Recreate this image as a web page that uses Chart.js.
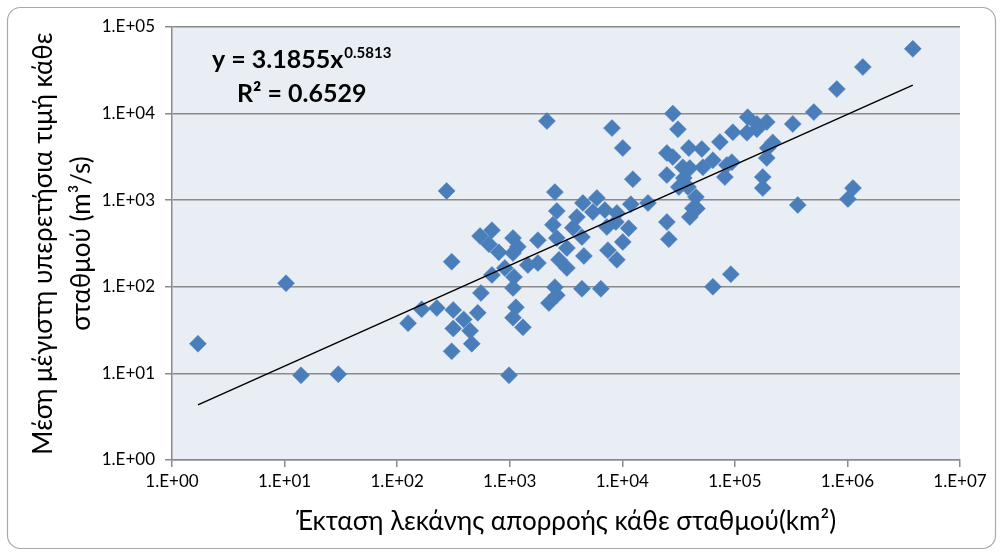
<!DOCTYPE html>
<html>
<head>
<meta charset="utf-8">
<script src="https://cdn.jsdelivr.net/npm/chart.js@4"></script>
<style>
  html, body { margin: 0; padding: 0; background: #fff; }
  canvas { display: block; }
</style>
</head>
<body>
<canvas id="flowChart" width="1001" height="555"></canvas>
<script>
// catchment area (km2) and mean annual peak flow (m3/s) per station
const areaKm2 = [
  1.7, 10.3, 14, 30, 125, 165, 225, 275, 305, 315, 315, 305, 390, 445, 460, 520, 555,
  545, 695, 655, 695, 800, 905, 1070, 1070, 1180, 1090, 1070, 1135, 1070, 1310, 985,
  1450, 1780, 1780, 2140, 2520, 2620, 2420, 2620, 2740, 3220, 3220, 2520, 2620, 2230,
  3640, 3950, 4470, 4380, 4560, 5480, 5950, 7000, 7300, 8770, 8950, 7450, 8950, 10100,
  11400, 11900, 12400, 8100, 10100, 4380, 6450, 16900, 24900, 24900, 24900, 25900,
  28100, 28100, 31200, 31800, 34500, 35200, 39000, 39800, 39800, 42400, 45100, 46000,
  50900, 52000, 38300, 63800, 63800, 73600, 81500, 84900, 94000, 92100, 96000, 128000,
  130000, 157000, 157000, 177000, 177000, 192000, 192000, 196000, 217000, 327000,
  362000, 503000, 805000, 1010000, 1120000, 1370000, 3810000
];
const peakFlow = [
  22, 110, 9.5, 9.8, 38, 55, 57, 1280, 195, 54, 33, 18, 42, 31, 22, 50, 85,
  385, 450, 310, 137, 250, 165, 365, 245, 290, 130, 97, 58, 44, 34, 9.5,
  178, 188, 345, 8200, 1240, 750, 520, 365, 205, 165, 280, 99, 80, 65,
  480, 640, 930, 375, 227, 730, 1060, 770, 490, 560, 710, 265, 205, 330,
  475, 900, 1750, 6800, 4000, 95, 95, 930, 3500, 1950, 560, 355,
  10000, 3150, 6600, 1420, 2400, 1800, 4000, 2350, 640, 810, 1090, 800,
  3900, 2400, 1420, 2900, 100, 4700, 1850, 2550, 2750, 140, 6100, 6000,
  9100, 7600, 6600, 1850, 1380, 8000, 3070, 4000, 4650, 7600,
  880, 10400, 19200, 1030, 1380, 34500, 56000
];

const xTicks = [1, 10, 100, 1000, 10000, 100000, 1000000, 10000000];
const xTickLabels = ['1.E+00', '1.E+01', '1.E+02', '1.E+03', '1.E+04', '1.E+05', '1.E+06', '1.E+07'];
const yTicks = [1, 10, 100, 1000, 10000, 100000];
const yTickLabels = ['1.E+00', '1.E+01', '1.E+02', '1.E+03', '1.E+04', '1.E+05'];

// power trendline y = a * x^b
const trendA = 3.1855;
const trendB = 0.5813;
const trendR2 = 0.6529;

const points = areaKm2.map((x, i) => ({ x: x, y: peakFlow[i] }));
const xMin = Math.min(...areaKm2);
const xMax = Math.max(...areaKm2);
const trendLine = [xMin, xMax].map(x => ({ x: x, y: trendA * Math.pow(x, trendB) }));

const gridGray = '#8a8a8a';
const fontFamily = 'Lato, "Open Sans", sans-serif';

// white card with rounded border + plot background
const backdrop = {
  id: 'backdrop',
  beforeDraw(chart) {
    const { ctx, chartArea } = chart;
    ctx.save();
    ctx.fillStyle = '#ffffff';
    ctx.fillRect(0, 0, chart.width, chart.height);
    ctx.beginPath();
    ctx.roundRect(7.5, 7.5, 988, 541, 13);
    ctx.strokeStyle = '#a9a9a9';
    ctx.lineWidth = 1.2;
    ctx.stroke();
    ctx.fillStyle = '#e9edf4';
    ctx.fillRect(chartArea.left, chartArea.top, chartArea.right - chartArea.left, chartArea.bottom - chartArea.top);
    ctx.restore();
  }
};

// trendline equation and R-squared
const equationLabel = {
  id: 'equationLabel',
  afterDatasetsDraw(chart) {
    const { ctx } = chart;
    ctx.save();
    ctx.fillStyle = '#000';
    ctx.textBaseline = 'alphabetic';
    ctx.textAlign = 'left';
    ctx.font = 'bold 25px ' + fontFamily;
    const main = 'y = ' + trendA.toFixed(4) + 'x';
    ctx.fillText(main, 212, 68);
    const w = ctx.measureText(main).width;
    ctx.font = 'bold 15px ' + fontFamily;
    ctx.fillText(trendB.toFixed(4), 212 + w + 1, 58);
    ctx.font = 'bold 25px ' + fontFamily;
    ctx.fillText('R\u00b2 = ' + trendR2.toFixed(4), 237, 102);
    ctx.restore();
  }
};

new Chart(document.getElementById('flowChart'), {
  type: 'scatter',
  data: {
    datasets: [
      {
        data: trendLine,
        showLine: true,
        borderColor: '#000',
        borderWidth: 1.5,
        pointRadius: 0,
        fill: false
      },
      {
        data: points,
        pointStyle: 'rectRot',
        pointRadius: 8.5,
        backgroundColor: '#4a7ebb',
        borderColor: '#4a7ebb',
        borderWidth: 0.5
      }
    ]
  },
  options: {
    responsive: false,
    animation: false,
    devicePixelRatio: 1,
    layout: { padding: { top: 27, right: 41, left: 0, bottom: 0 } },
    plugins: {
      legend: { display: false },
      tooltip: { enabled: false }
    },
    scales: {
      x: {
        type: 'logarithmic',
        min: 1,
        max: 10000000,
        afterFit(scale) { scale.height = 95; },
        afterBuildTicks(scale) { scale.ticks = xTicks.map(v => ({ value: v })); },
        ticks: {
          autoSkip: false,
          maxRotation: 0,
          padding: 4,
          color: '#000',
          font: { family: fontFamily, size: 17 },
          callback: (v) => xTickLabels[xTicks.indexOf(v)]
        },
        grid: { drawOnChartArea: false, drawTicks: true, tickLength: 7, color: gridGray, lineWidth: 1.5 },
        border: { display: true, color: gridGray, width: 1.5 },
        title: {
          display: true,
          text: 'Έκταση λεκάνης απορροής κάθε σταθμού(km²)',
          color: '#000',
          font: { family: fontFamily, size: 26 },
          padding: { top: 0, bottom: 18 }
        }
      },
      y: {
        type: 'logarithmic',
        min: 1,
        max: 100000,
        afterFit(scale) { scale.width = 172; },
        afterBuildTicks(scale) { scale.ticks = yTicks.map(v => ({ value: v })); },
        ticks: {
          autoSkip: false,
          padding: 10,
          color: '#000',
          font: { family: fontFamily, size: 17 },
          callback: (v) => yTickLabels[yTicks.indexOf(v)]
        },
        grid: { drawOnChartArea: true, drawTicks: true, tickLength: 7, color: gridGray, lineWidth: 1.5 },
        border: { display: true, color: gridGray, width: 1.5 },
        title: {
          display: true,
          text: ['Μέση μέγιστη υπερετήσια τιμή κάθε', 'σταθμού (m³/s)'],
          color: '#000',
          font: { family: fontFamily, size: 26, lineHeight: 1.45 },
          padding: { top: 25, bottom: 0 }
        }
      }
    }
  },
  plugins: [backdrop, equationLabel]
});
</script>
</body>
</html>
